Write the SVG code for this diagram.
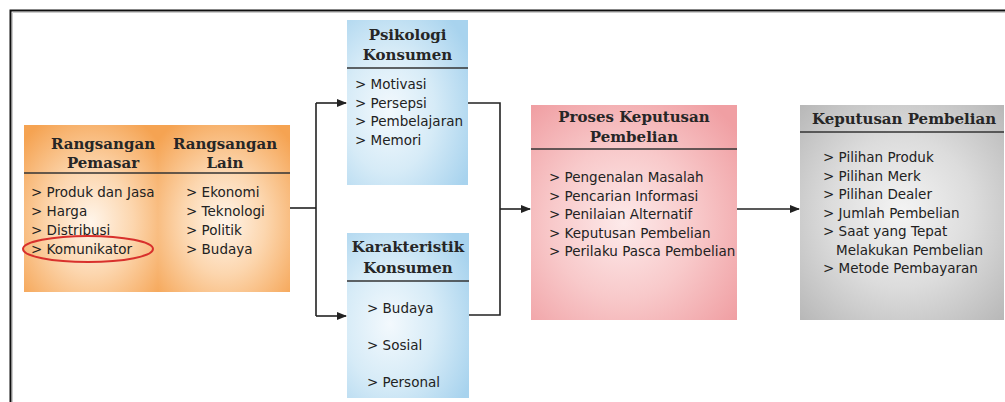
<svg xmlns="http://www.w3.org/2000/svg" width="1005" height="402" viewBox="0 0 1005 402">
<style>
.t{font-family:"DejaVu Serif","Liberation Serif",serif;font-weight:bold;font-size:15px;fill:#262626;text-anchor:middle}
.i{font-family:"DejaVu Sans","Liberation Sans",sans-serif;font-size:13.5px;fill:#222}
.dv{stroke:#333;stroke-width:1.6}
.cn{fill:none;stroke:#222;stroke-width:1.6}
</style>
<defs>
<radialGradient id="gO" cx="50%" cy="58%" r="70%">
<stop offset="0" stop-color="#fff5ea"/><stop offset="0.45" stop-color="#fcd6ae"/><stop offset="1" stop-color="#f5a352"/>
</radialGradient>
<radialGradient id="gB" cx="35%" cy="55%" r="75%">
<stop offset="0" stop-color="#f3f9fd"/><stop offset="0.5" stop-color="#d6ebf7"/><stop offset="1" stop-color="#a8d3ee"/>
</radialGradient>
<radialGradient id="gP" cx="45%" cy="55%" r="70%">
<stop offset="0" stop-color="#fdeaea"/><stop offset="0.5" stop-color="#f8c9ca"/><stop offset="1" stop-color="#f09fa3"/>
</radialGradient>
<radialGradient id="gG" cx="50%" cy="50%" r="70%">
<stop offset="0" stop-color="#f4f4f4"/><stop offset="0.5" stop-color="#dcdcdc"/><stop offset="1" stop-color="#b8b8b8"/>
</radialGradient>
<marker id="ah" markerWidth="10" markerHeight="8" refX="9" refY="4" orient="auto" markerUnits="userSpaceOnUse">
<path d="M0,0 L10,4 L0,8 Z" fill="#222"/>
</marker>
</defs>
<rect width="1005" height="402" fill="#fff"/>
<path d="M10.5,402 V10.5 H1005" fill="none" stroke="#111" stroke-width="2"/>
<path d="M12.5,402 V12.5 H1005" fill="none" stroke="#ccc" stroke-width="1"/>

<g id="rangsangan">
<rect x="24" y="125" width="134" height="167" fill="url(#gO)"/>
<rect x="158" y="125" width="132" height="167" fill="url(#gO)"/>
<line class="dv" x1="24" y1="173" x2="290" y2="173"/>
<text class="t" x="103" y="149">Rangsangan</text>
<text class="t" x="103" y="168">Pemasar</text>
<text class="t" x="225" y="149">Rangsangan</text>
<text class="t" x="225" y="168">Lain</text>
<text class="i" x="31" y="197">&gt; Produk dan Jasa</text>
<text class="i" x="31" y="216">&gt; Harga</text>
<text class="i" x="31" y="235">&gt; Distribusi</text>
<text class="i" x="31" y="254">&gt; Komunikator</text>
<text class="i" x="186" y="197">&gt; Ekonomi</text>
<text class="i" x="186" y="216">&gt; Teknologi</text>
<text class="i" x="186" y="235">&gt; Politik</text>
<text class="i" x="186" y="254">&gt; Budaya</text>
<ellipse cx="88" cy="249" rx="65" ry="13" fill="none" stroke="#d8302c" stroke-width="2"/>
</g>

<g id="psikologi">
<rect x="347" y="20" width="121" height="165" fill="url(#gB)"/>
<line class="dv" x1="347" y1="68" x2="468" y2="68"/>
<text class="t" x="407.5" y="40">Psikologi</text>
<text class="t" x="407.5" y="60">Konsumen</text>
<text class="i" x="355" y="89">&gt; Motivasi</text>
<text class="i" x="355" y="107.5">&gt; Persepsi</text>
<text class="i" x="355" y="126">&gt; Pembelajaran</text>
<text class="i" x="355" y="144.5">&gt; Memori</text>
</g>

<g id="karakteristik">
<rect x="347" y="233" width="122" height="165" fill="url(#gB)"/>
<line class="dv" x1="347" y1="281" x2="469" y2="281"/>
<text class="t" x="408" y="252">Karakteristik</text>
<text class="t" x="408" y="273">Konsumen</text>
<text class="i" x="367" y="313">&gt; Budaya</text>
<text class="i" x="367" y="350">&gt; Sosial</text>
<text class="i" x="367" y="387">&gt; Personal</text>
</g>

<g id="proses">
<rect x="531" y="105" width="206" height="215" fill="url(#gP)"/>
<line class="dv" x1="531" y1="149" x2="737" y2="149"/>
<text class="t" x="634" y="122">Proses Keputusan</text>
<text class="t" x="634" y="142">Pembelian</text>
<text class="i" x="549" y="182">&gt; Pengenalan Masalah</text>
<text class="i" x="549" y="200.5">&gt; Pencarian Informasi</text>
<text class="i" x="549" y="219">&gt; Penilaian Alternatif</text>
<text class="i" x="549" y="237.5">&gt; Keputusan Pembelian</text>
<text class="i" x="549" y="256">&gt; Perilaku Pasca Pembelian</text>
</g>

<g id="keputusan">
<rect x="800" y="105" width="204" height="215" fill="url(#gG)"/>
<line class="dv" x1="800" y1="132" x2="1004" y2="132"/>
<text class="t" x="904" y="124">Keputusan Pembelian</text>
<text class="i" x="823" y="162">&gt; Pilihan Produk</text>
<text class="i" x="823" y="180.5">&gt; Pilihan Merk</text>
<text class="i" x="823" y="199">&gt; Pilihan Dealer</text>
<text class="i" x="823" y="217.5">&gt; Jumlah Pembelian</text>
<text class="i" x="823" y="236">&gt; Saat yang Tepat</text>
<text class="i" x="836" y="254.5">Melakukan Pembelian</text>
<text class="i" x="823" y="273">&gt; Metode Pembayaran</text>
</g>

<g id="connectors">
<path class="cn" d="M290,208 H316"/>
<path class="cn" d="M316,103 V316"/>
<path class="cn" d="M316,103 H346" marker-end="url(#ah)"/>
<path class="cn" d="M316,316 H346" marker-end="url(#ah)"/>
<path class="cn" d="M468,103 H500 V315 H469"/>
<path class="cn" d="M500,209 H530" marker-end="url(#ah)"/>
<path class="cn" d="M737,209 H799" marker-end="url(#ah)"/>
</g>
</svg>
